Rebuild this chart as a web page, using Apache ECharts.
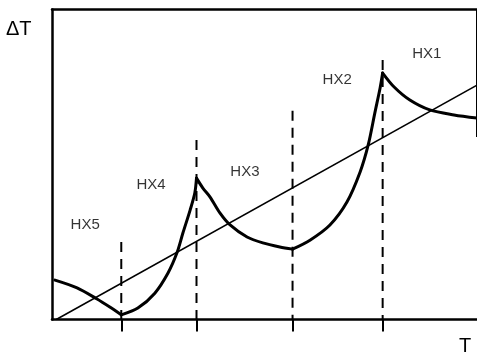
<!DOCTYPE html>
<html>
<head>
<meta charset="utf-8">
<style>
  html, body { margin: 0; padding: 0; background: #fff; }
  #chart { width: 477px; height: 355px; }
</style>
<script src="https://cdn.jsdelivr.net/npm/echarts@6/dist/echarts.min.js"></script>
</head>
<body>
<div id="chart"></div>
<script>
// Temperature-difference profile along the exchanger train (arbitrary units 0–100)
// Each branch runs between two exchanger boundaries.
const branchHX5 = [[0.7, 12.7], [5.9, 10.2], [10.6, 6.6], [13.6, 4.0], [16.3, 1.5]];
const branchHX4 = [[16.3, 1.5], [20.2, 3.7], [24.2, 8.5], [27.3, 15.0], [29.4, 21.5],
                   [30.8, 27.9], [32.5, 35.3], [33.6, 40.8], [34.0, 45.6]];
const branchHX3 = [[34.0, 45.6], [35.5, 42.4], [37.2, 39.5], [39.5, 34.4], [41.9, 30.5],
                   [45.9, 26.6], [49.6, 24.7], [53.6, 23.4], [56.6, 22.7]];
const branchHX2 = [[56.6, 22.7], [60.7, 25.6], [65.4, 30.5], [69.4, 37.9], [72.5, 47.6],
                   [74.4, 56.3], [76.0, 66.9], [77.2, 74.7], [77.8, 79.5]];
const branchHX1 = [[77.8, 79.5], [80.5, 75.0], [84.2, 70.8], [88.9, 67.6], [94.6, 66.0], [100, 65.0]];

// Reference straight line (start and end)
const refLine = [[1.0, 0.0], [100, 75.6]];

// Exchanger boundaries and the height of their dashed markers
const boundaryT = [16.3, 34.0, 56.6, 77.8];
const boundaryTop = [25.0, 57.9, 67.3, 83.7];

// Exchanger names and where they are written
const hxNames = ['HX1', 'HX2', 'HX3', 'HX4', 'HX5'];
const hxNameT = [88.2, 67.1, 45.4, 23.3, 7.8];
const hxNameDT = [85.8, 77.3, 47.6, 43.4, 30.5];

const chart = echarts.init(document.getElementById('chart'), null, { renderer: 'canvas' });

const curveStyle = { color: '#000', width: 3, cap: 'round', join: 'round' };

function branch(data) {
  return {
    type: 'line', data: data, smooth: 0.3, symbol: 'none',
    lineStyle: curveStyle, z: 5, animation: false
  };
}

const series = [
  branch(branchHX5), branch(branchHX4), branch(branchHX3), branch(branchHX2), branch(branchHX1),
  {
    type: 'line', data: refLine, symbol: 'none',
    lineStyle: { color: '#000', width: 1.5 }, z: 4, animation: false
  }
];

boundaryT.forEach(function (t, i) {
  series.push({
    type: 'line', data: [[t, boundaryTop[i]], [t, 0]], symbol: 'none',
    lineStyle: { color: '#000', width: 2, type: [10, 7] }, z: 3, animation: false
  });
});

// partial right-hand frame edge
series.push({
  type: 'line', data: [[100, 100], [100, 58.9]], symbol: 'none', clip: false,
  lineStyle: { color: '#000', width: 2 }, z: 3, animation: false
});

series.push({
  type: 'scatter', symbolSize: 0, animation: false,
  data: hxNames.map(function (n, i) { return { value: [hxNameT[i], hxNameDT[i]], name: n }; }),
  label: {
    show: true, position: 'inside', formatter: '{b}',
    color: '#000', fontSize: 15, fontFamily: 'Liberation Sans, Arial, sans-serif'
  }
});

chart.setOption({
  backgroundColor: '#fff',
  animation: false,
  grid: { left: 52, right: 0, top: 9.5, bottom: 35.5, containLabel: false },
  xAxis: [
    {
      type: 'value', min: 0, max: 100, position: 'bottom',
      axisLine: { show: true, onZero: false, lineStyle: { color: '#000', width: 2.5 } },
      axisTick: {
        show: true, inside: false, length: 12, customValues: boundaryT,
        lineStyle: { color: '#000', width: 2 }
      },
      axisLabel: { show: false },
      splitLine: { show: false }
    },
    {
      type: 'value', min: 0, max: 100, position: 'top',
      axisLine: { show: true, onZero: false, lineStyle: { color: '#000', width: 2.5 } },
      axisTick: { show: false }, axisLabel: { show: false }, splitLine: { show: false }
    }
  ],
  yAxis: {
    type: 'value', min: 0, max: 100,
    axisLine: { show: true, onZero: false, lineStyle: { color: '#000', width: 2.5 } },
    axisTick: { show: false }, axisLabel: { show: false }, splitLine: { show: false }
  },
  graphic: [
    {
      type: 'text', left: 6, top: 19,
      style: { text: 'ΔT', fill: '#000', font: '20px "Liberation Sans", Arial, sans-serif' }
    },
    {
      type: 'text', left: 459, top: 336,
      style: { text: 'T', fill: '#000', font: '20px "Liberation Sans", Arial, sans-serif' }
    }
  ],
  series: series
});
</script>
</body>
</html>
